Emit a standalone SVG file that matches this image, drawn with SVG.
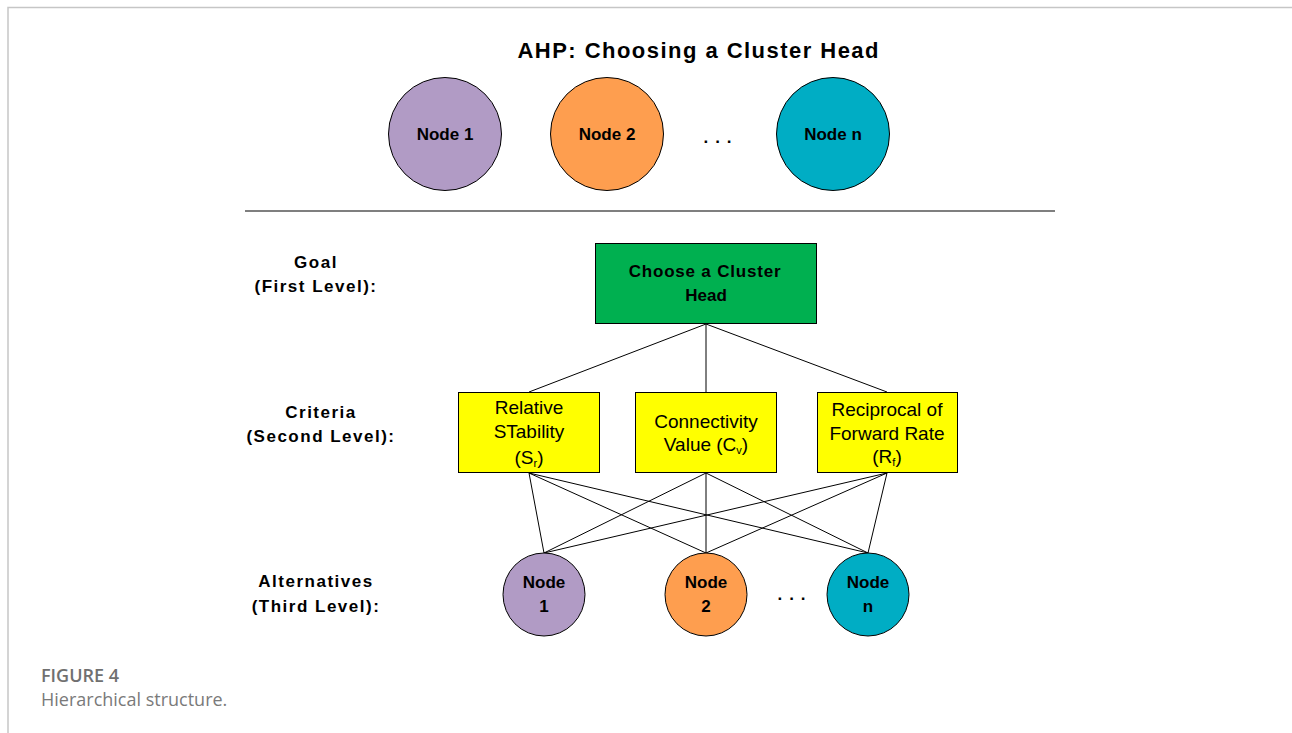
<svg xmlns="http://www.w3.org/2000/svg" width="1292" height="733" viewBox="0 0 1292 733">
  <style>
    .frame { stroke: #c6c6c6; stroke-width: 1.5; fill: none; }
    .head { font-family: "Liberation Sans", Arial, sans-serif; font-weight: bold; fill: #000; text-anchor: middle; }
    .lvl { font-family: "Liberation Sans", Arial, sans-serif; font-weight: bold; font-size: 17px; fill: #000; text-anchor: middle; letter-spacing: 1.5px; }
    .crit { font-family: "Liberation Sans", Arial, sans-serif; font-size: 19px; fill: #000; text-anchor: middle; }
    .edge { stroke: #000; stroke-width: 1; fill: none; }
    .box { stroke: #000; stroke-width: 1; }
    .purple { fill: #b19bc5; stroke: #000; stroke-width: 1; }
    .orange { fill: #fe9e4f; stroke: #000; stroke-width: 1; }
    .teal { fill: #00adc4; stroke: #000; stroke-width: 1; }
    .cap { font-family: "Open Sans", "Liberation Sans", sans-serif; }
  </style>

  <rect width="1292" height="733" fill="#ffffff"/>
  <!-- page frame -->
  <path class="frame" d="M8,733 V7.5 H1292"/>

  <!-- title and candidate nodes -->
  <g id="title">
    <text class="head" x="698" y="58" font-size="22" textLength="361" lengthAdjust="spacing">AHP: Choosing a Cluster Head</text>
  </g>
  <g id="top-node-1">
    <circle class="purple" cx="445" cy="134" r="56.5"/>
    <text class="head" x="445" y="140" font-size="17">Node 1</text>
  </g>
  <g id="top-node-2">
    <circle class="orange" cx="607" cy="134" r="56.5"/>
    <text class="head" x="607" y="140" font-size="17">Node 2</text>
  </g>
  <g id="top-ellipsis">
    <text class="head" x="721" y="143" font-size="17" letter-spacing="7">...</text>
  </g>
  <g id="top-node-n">
    <circle class="teal" cx="833" cy="134" r="56.5"/>
    <text class="head" x="833" y="140" font-size="17">Node n</text>
  </g>

  <line x1="245" y1="211" x2="1055" y2="211" stroke="#000" stroke-width="1.2"/>

  <!-- level labels -->
  <g id="label-goal">
    <text class="lvl" x="316" y="268">Goal</text>
    <text class="lvl" x="316" y="292">(First Level):</text>
  </g>
  <g id="label-criteria">
    <text class="lvl" x="321" y="418">Criteria</text>
    <text class="lvl" x="321" y="442">(Second Level):</text>
  </g>
  <g id="label-alternatives">
    <text class="lvl" x="316" y="587">Alternatives</text>
    <text class="lvl" x="316" y="612">(Third Level):</text>
  </g>

  <!-- connectors -->
  <g id="connectors">
    <line class="edge" x1="706" y1="324" x2="529" y2="392"/>
    <line class="edge" x1="706" y1="324" x2="706" y2="392"/>
    <line class="edge" x1="706" y1="324" x2="887" y2="392"/>

    <line class="edge" x1="529" y1="473" x2="544" y2="553"/>
    <line class="edge" x1="529" y1="473" x2="706" y2="553"/>
    <line class="edge" x1="529" y1="473" x2="868" y2="553"/>
    <line class="edge" x1="706" y1="473" x2="544" y2="553"/>
    <line class="edge" x1="706" y1="473" x2="706" y2="553"/>
    <line class="edge" x1="706" y1="473" x2="868" y2="553"/>
    <line class="edge" x1="887" y1="473" x2="544" y2="553"/>
    <line class="edge" x1="887" y1="473" x2="706" y2="553"/>
    <line class="edge" x1="887" y1="473" x2="868" y2="553"/>
  </g>

  <!-- goal -->
  <g id="goal">
    <rect class="box" x="595.5" y="243.5" width="221" height="80" fill="#00b050"/>
    <text class="head" x="705" y="277" font-size="17" letter-spacing="0.8">Choose a Cluster</text>
    <text class="head" x="706" y="301" font-size="17">Head</text>
  </g>

  <!-- criteria -->
  <g id="criterion-sr">
    <rect class="box" x="458.5" y="392.5" width="141" height="80" fill="#ffff00"/>
    <text class="crit" x="529" y="414">Relative</text>
    <text class="crit" x="529" y="438">STability</text>
    <text class="crit" x="529" y="464">(S<tspan font-size="11" dy="3">r</tspan><tspan dy="-3">)</tspan></text>
  </g>
  <g id="criterion-cv">
    <rect class="box" x="635.5" y="392.5" width="141" height="80" fill="#ffff00"/>
    <text class="crit" x="706" y="428">Connectivity</text>
    <text class="crit" x="706" y="451">Value (C<tspan font-size="11" dy="3">v</tspan><tspan dy="-3">)</tspan></text>
  </g>
  <g id="criterion-rf">
    <rect class="box" x="817.5" y="392.5" width="140" height="80" fill="#ffff00"/>
    <text class="crit" x="887" y="416">Reciprocal of</text>
    <text class="crit" x="887" y="440">Forward Rate</text>
    <text class="crit" x="887" y="463">(R<tspan font-size="11" dy="3">f</tspan><tspan dy="-3">)</tspan></text>
  </g>

  <!-- alternatives -->
  <g id="alt-node-1">
    <ellipse class="purple" cx="544" cy="594.5" rx="41" ry="41.5"/>
    <text class="head" x="544" y="588" font-size="17">Node</text>
    <text class="head" x="544" y="612" font-size="17">1</text>
  </g>
  <g id="alt-node-2">
    <ellipse class="orange" cx="706" cy="594.5" rx="41" ry="41.5"/>
    <text class="head" x="706" y="588" font-size="17">Node</text>
    <text class="head" x="706" y="612" font-size="17">2</text>
  </g>
  <g id="alt-ellipsis">
    <text class="head" x="795" y="600" font-size="17" letter-spacing="7">...</text>
  </g>
  <g id="alt-node-n">
    <ellipse class="teal" cx="868" cy="594.5" rx="41" ry="41.5"/>
    <text class="head" x="868" y="588" font-size="17">Node</text>
    <text class="head" x="868" y="612" font-size="17">n</text>
  </g>

  <!-- caption -->
  <text class="cap" x="41" y="682" font-size="18" font-weight="600" fill="#707070">FIGURE 4</text>
  <text class="cap" x="41" y="706" font-size="18" fill="#7a7a7a">Hierarchical structure.</text>
</svg>
